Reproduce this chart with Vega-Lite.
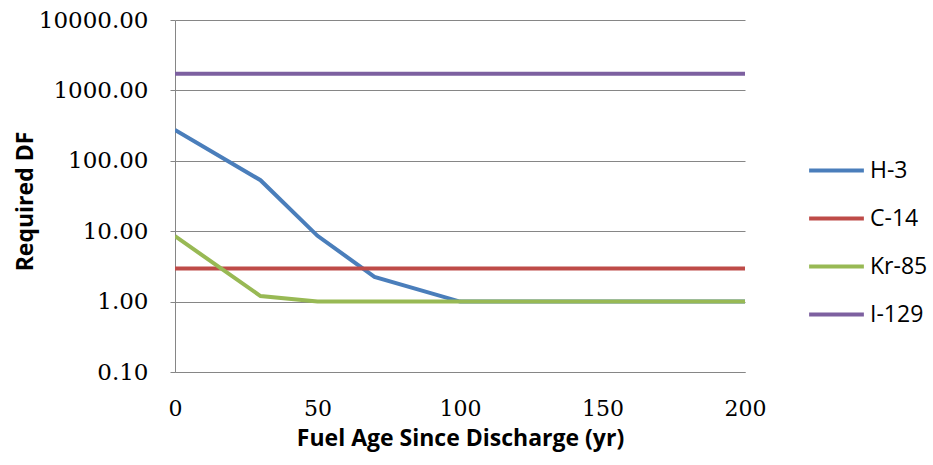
{
  "$schema": "https://vega.github.io/schema/vega-lite/v6.json",
  "width": 570,
  "height": 352,
  "autosize": {"type": "none"},
  "padding": {"left": 175, "top": 20, "right": 188, "bottom": 93},
  "background": "white",
  "config": {"view": {"stroke": null}},
  "data": {"values": [
    {"series": "H-3", "age": 0, "df": 275},
    {"series": "H-3", "age": 30, "df": 53},
    {"series": "H-3", "age": 50, "df": 8.6},
    {"series": "H-3", "age": 70, "df": 2.25},
    {"series": "H-3", "age": 100, "df": 1},
    {"series": "H-3", "age": 150, "df": 1},
    {"series": "H-3", "age": 200, "df": 1},
    {"series": "C-14", "age": 0, "df": 2.95},
    {"series": "C-14", "age": 30, "df": 2.95},
    {"series": "C-14", "age": 50, "df": 2.95},
    {"series": "C-14", "age": 70, "df": 2.95},
    {"series": "C-14", "age": 100, "df": 2.95},
    {"series": "C-14", "age": 150, "df": 2.95},
    {"series": "C-14", "age": 200, "df": 2.95},
    {"series": "Kr-85", "age": 0, "df": 8.5},
    {"series": "Kr-85", "age": 30, "df": 1.2},
    {"series": "Kr-85", "age": 50, "df": 1},
    {"series": "Kr-85", "age": 70, "df": 1},
    {"series": "Kr-85", "age": 100, "df": 1},
    {"series": "Kr-85", "age": 150, "df": 1},
    {"series": "Kr-85", "age": 200, "df": 1},
    {"series": "I-129", "age": 0, "df": 1720},
    {"series": "I-129", "age": 30, "df": 1720},
    {"series": "I-129", "age": 50, "df": 1720},
    {"series": "I-129", "age": 70, "df": 1720},
    {"series": "I-129", "age": 100, "df": 1720},
    {"series": "I-129", "age": 150, "df": 1720},
    {"series": "I-129", "age": 200, "df": 1720}
  ]},
  "mark": {"type": "line", "strokeWidth": 4, "clip": true},
  "encoding": {
    "x": {
      "field": "age", "type": "quantitative",
      "scale": {"domain": [0, 200], "nice": false},
      "axis": {
        "title": "Fuel Age Since Discharge (yr)",
        "values": [0, 50, 100, 150, 200],
        "grid": false,
        "labelFlush": false,
        "domainColor": "#868686",
        "ticks": false,
        "labelPadding": 26,
        "labelFont": "DejaVu Serif",
        "labelFontSize": 22,
        "labelColor": "#000000",
        "titleFont": "Open Sans",
        "titleFontSize": 23,
        "titleFontWeight": "bold",
        "titleColor": "#000000",
        "titlePadding": 8
      }
    },
    "y": {
      "field": "df", "type": "quantitative",
      "scale": {"type": "log", "domain": [0.1, 10000], "nice": false},
      "axis": {
        "title": "Required DF",
        "values": [0.1, 1, 10, 100, 1000, 10000],
        "format": ".2f",
        "grid": true,
        "labelFlush": false,
        "gridColor": "#868686",
        "gridWidth": 1,
        "domainColor": "#868686",
        "tickColor": "#868686",
        "tickSize": 5,
        "labelPadding": 22,
        "labelFont": "DejaVu Serif",
        "labelFontSize": 23,
        "labelColor": "#000000",
        "titleFont": "Open Sans",
        "titleFontSize": 23,
        "titleFontWeight": "bold",
        "titleColor": "#000000",
        "titleX": -150,
        "titleY": 181,
        "titleBaseline": "middle"
      }
    },
    "color": {
      "field": "series", "type": "nominal",
      "scale": {"domain": ["H-3", "C-14", "Kr-85", "I-129"], "range": ["#4A7EBB", "#BE4B48", "#98B954", "#7D60A0"]},
      "legend": {
        "title": null,
        "orient": "none",
        "legendX": 632,
        "legendY": 121,
        "symbolType": "stroke",
        "symbolSize": 3000,
        "symbolStrokeWidth": 4,
        "labelFont": "Open Sans",
        "labelFontSize": 23,
        "labelColor": "#000000",
        "labelOffset": 4,
        "rowPadding": 6
      }
    }
  }
}
